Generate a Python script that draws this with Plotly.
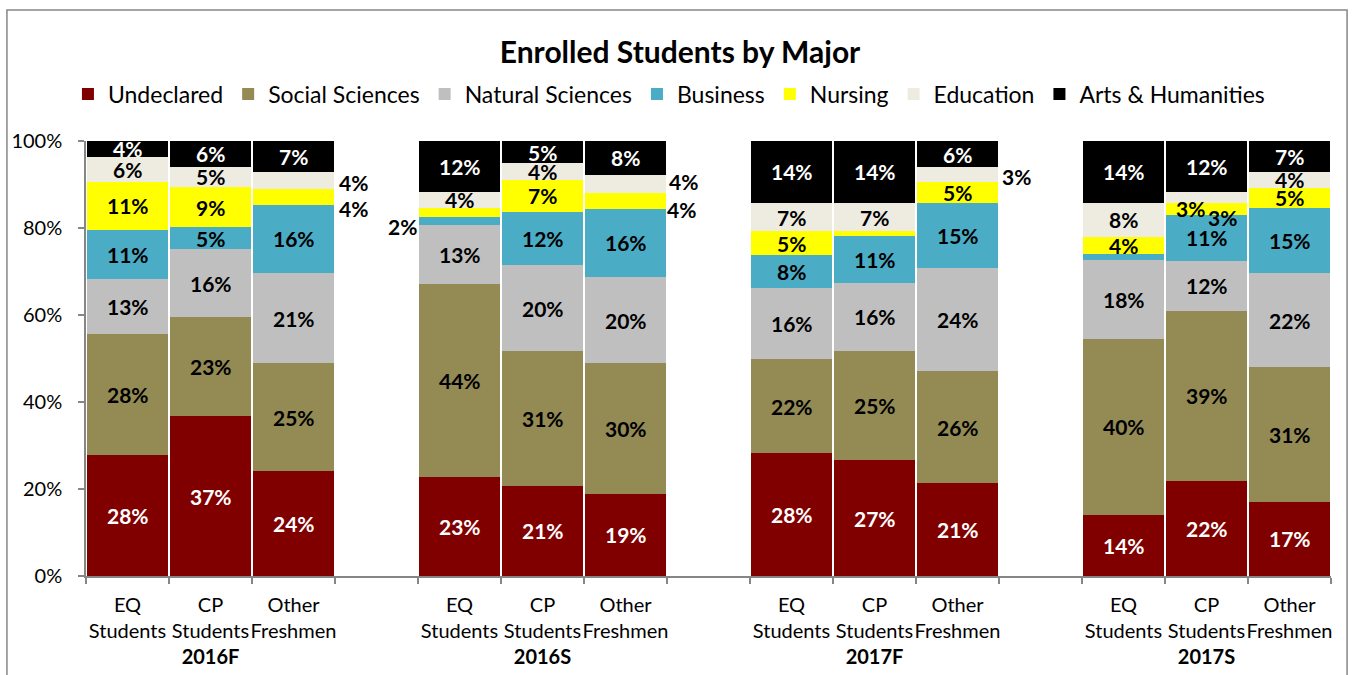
import plotly.graph_objects as go

# ---- data -------------------------------------------------------------
terms = ["2016F", "2016S", "2017F", "2017S"]
cohorts = ["EQ<br>Students", "CP<br>Students", "Other<br>Freshmen"]
majors = ["Undeclared", "Social Sciences", "Natural Sciences", "Business",
          "Nursing", "Education", "Arts & Humanities"]

# shares (%) per bar, ordered term by term: EQ, CP, Other
undeclared = [27.8, 36.7, 24.2, 22.8, 20.8, 18.9, 28.2, 26.6, 21.3, 14.1, 21.9, 17.1]
social     = [27.8, 22.8, 24.7, 44.4, 30.9, 30.0, 21.6, 25.1, 25.8, 40.4, 39.0, 30.9]
natural    = [12.7, 15.6, 20.8, 13.4, 19.8, 19.9, 16.4, 15.7, 23.8, 18.1, 11.6, 21.7]
business   = [11.3,  5.1, 15.6,  1.9, 12.2, 15.6,  7.6, 10.8, 14.9,  1.4, 10.6, 14.9]
nursing    = [11.0,  9.2,  3.7,  2.2,  7.4,  3.6,  5.4,  1.0,  4.8,  3.9,  2.6,  4.7]
education  = [ 5.8,  4.7,  3.9,  3.6,  3.8,  4.2,  6.6,  6.6,  3.4,  7.9,  2.6,  3.6]
arts       = [ 3.6,  5.9,  7.1, 11.7,  5.1,  7.8, 14.2, 14.2,  6.0, 14.2, 11.7,  7.1]

series = [undeclared, social, natural, business, nursing, education, arts]

# ---- styling ----------------------------------------------------------
colors = ["#800000", "#948A54", "#BFBFBF", "#4BACC6", "#FFFF00", "#EEECE1", "#000000"]
label_colors = ["white", "black", "black", "black", "black", "black", "white"]
FONT = "Lato"
AXIS_GREY = "#868686"

# labels that are left out (too thin) and labels nudged aside (px offsets)
hidden_labels = {("Nursing", 3), ("Nursing", 7), ("Business", 9)}
label_offsets = {
    ("Education", 2): (60, -2), ("Nursing", 2): (60, -12),
    ("Business", 3): (-57, -5),
    ("Education", 5): (58, 3), ("Nursing", 5): (56, -8),
    ("Education", 8): (59, -2),
    ("Nursing", 10): (-16, 0), ("Education", 10): (16, -20),
}

# three cohort bars per term, one empty slot between terms
xpos = [t * 4 + c for t in range(len(terms)) for c in range(len(cohorts))]
ticktext = []
for t in terms:
    for c, name in enumerate(cohorts):
        ticktext.append(name + (f"<br><b>{t}</b>" if c == 1 else ""))

fig = go.Figure()
for name, vals, col in zip(majors, series, colors):
    fig.add_trace(go.Bar(name=name, x=xpos, y=vals, marker=dict(color=col, line=dict(width=0)),
                         hoverinfo="name+y"))

# value labels centred in each segment
annotations = []
base = [0.0] * len(xpos)
for name, vals, lc in zip(majors, series, label_colors):
    for i, v in enumerate(vals):
        mid = base[i] + v / 2
        base[i] += v
        if (name, i) in hidden_labels:
            continue
        dx, dy = label_offsets.get((name, i), (0, 0))
        outside = (name, i) in label_offsets and abs(dx) > 30
        annotations.append(dict(
            x=xpos[i], y=mid, xref="x", yref="y", showarrow=False,
            text=f"<b>{int(v + 0.5)}%</b>", xshift=dx, yshift=dy,
            font=dict(family=FONT, size=21, color="black" if outside else lc),
        ))

fig.update_layout(
    width=1352, height=675,
    margin=dict(l=86, r=21, t=141, b=99),
    paper_bgcolor="white", plot_bgcolor="white",
    barmode="stack", bargap=0.036,
    font=dict(family=FONT, size=20, color="black"),
    title=dict(text="<b>Enrolled Students by Major</b>", x=0.503, xanchor="center",
               y=1 - 52 / 675, yanchor="middle", yref="container",
               font=dict(family=FONT, size=30, color="black")),
    legend=dict(orientation="h", x=-0.0145, xanchor="left", y=1.108, yanchor="middle",
                font=dict(family=FONT, size=23, color="black"), traceorder="normal",
                bgcolor="rgba(0,0,0,0)"),
    xaxis=dict(range=[-0.5, 14.5], tickmode="array", tickvals=xpos, ticktext=ticktext,
               ticks="", tickangle=0, automargin=False,
               showgrid=False, zeroline=False,
               showline=True, linecolor=AXIS_GREY, linewidth=1.5,
               tickfont=dict(family=FONT, size=20, color="black"),
               ticklabelstandoff=10,
               minor=dict(tickmode="array", tickvals=[i - 0.5 for i in range(16)],
                          ticks="outside", ticklen=6, tickcolor=AXIS_GREY, tickwidth=1.5)),
    yaxis=dict(range=[0, 100], tickmode="array", tickvals=[0, 20, 40, 60, 80, 100],
               ticktext=["0%", "20%", "40%", "60%", "80%", "100%"],
               ticks="outside", ticklen=6, tickcolor=AXIS_GREY, tickwidth=1.5,
               automargin=False, showgrid=False, zeroline=False,
               showline=True, linecolor=AXIS_GREY, linewidth=1.5,
               tickfont=dict(family=FONT, size=20, color="black"),
               ticklabelstandoff=12),
    annotations=annotations,
    shapes=[dict(type="rect", xref="paper", yref="paper",
                 x0=-0.0635, x1=1.0129, y0=-0.26, y1=1.301,
                 line=dict(color=AXIS_GREY, width=1.5), fillcolor="rgba(0,0,0,0)",
                 layer="below")],
)

fig.write_html("out.html")
